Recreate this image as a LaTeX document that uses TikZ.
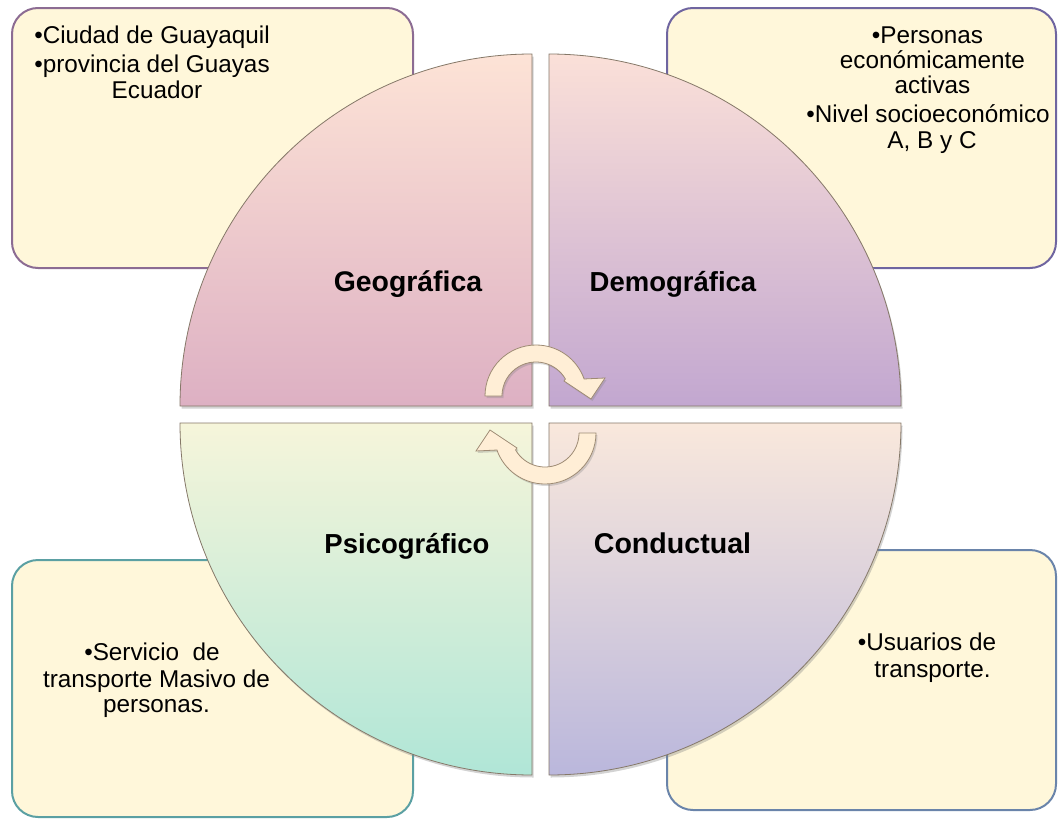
\documentclass[tikz,border=0pt]{standalone}
\usepackage{fontspec}
\setmainfont{Liberation Sans}
\usetikzlibrary{shadows}
\definecolor{boxfill}{HTML}{FFF7DA}
\definecolor{tlline}{HTML}{8C6C93}
\definecolor{trline}{HTML}{6F65A0}
\definecolor{blline}{HTML}{5BA0A3}
\definecolor{brline}{HTML}{6A84AA}
\definecolor{quadline}{HTML}{857868}
\definecolor{tltop}{HTML}{FDE3D6}
\definecolor{tlbot}{HTML}{DDB0C3}
\definecolor{trtop}{HTML}{FBE0D8}
\definecolor{trbot}{HTML}{C2A7D0}
\definecolor{bltop}{HTML}{F6F5DA}
\definecolor{blbot}{HTML}{B0E6D7}
\definecolor{brtop}{HTML}{F9E8DC}
\definecolor{brbot}{HTML}{BAB7DC}
\definecolor{arrowfill}{HTML}{FFEED6}
\definecolor{arrowline}{HTML}{9E8B74}
\begin{document}
\begin{tikzpicture}[x=1pt,y=1pt,
  infobox/.style={rectangle, rounded corners=26pt, fill=boxfill, line width=2pt, inner sep=0pt},
  quad/.style={draw=quadline, line width=0.8pt, drop shadow={shadow xshift=1.5pt,shadow yshift=-2.5pt,opacity=0.35}},
  body/.style={font=\fontsize{24.3}{26}\selectfont, inner sep=0pt, anchor=base},
  lab/.style={font=\bfseries\fontsize{27.5}{30}\selectfont, inner sep=0pt, anchor=base},
  cyclearrow/.style={fill=arrowfill, draw=arrowline, line width=0.8pt, drop shadow={shadow xshift=1.5pt,shadow yshift=-2pt,opacity=0.3}}]
\useasboundingbox (0,0) rectangle (1058,-819);
% info boxes
\node[infobox, draw=tlline, minimum width=401pt, minimum height=260pt] (boxTL) at (212.5,-138) {};
\node[infobox, draw=trline, minimum width=389pt, minimum height=260pt] (boxTR) at (861.5,-138) {};
\node[infobox, draw=blline, minimum width=401pt, minimum height=257pt] (boxBL) at (212.5,-688.5) {};
\node[infobox, draw=brline, minimum width=389pt, minimum height=260pt] (boxBR) at (861.5,-680) {};
% quadrants
\path[quad, top color=tltop, bottom color=tlbot] (532,-406) -- (180,-406) arc[start angle=180, end angle=90, radius=352] -- cycle;
\path[quad, top color=trtop, bottom color=trbot] (549,-406) -- (549,-54) arc[start angle=90, end angle=0, radius=352] -- cycle;
\path[quad, top color=bltop, bottom color=blbot] (532,-423) -- (532,-775) arc[start angle=270, end angle=180, radius=352] -- cycle;
\path[quad, top color=brtop, bottom color=brbot] (549,-423) -- (901,-423) arc[start angle=0, end angle=-90, radius=352] -- cycle;
% circular arrows
\path[cyclearrow] (502,-396) -- (485,-396) arc[start angle=180, end angle=19.5, radius=51] -- (605,-378) -- (591,-399) -- (564,-381) -- (565.4,-379) arc[start angle=30, end angle=180, radius=34] -- cycle;
\path[cyclearrow, rotate around={180:(540.5,-414.5)}] (502,-396) -- (485,-396) arc[start angle=180, end angle=19.5, radius=51] -- (605,-378) -- (591,-399) -- (564,-381) -- (565.4,-379) arc[start angle=30, end angle=180, radius=34] -- cycle;
% quadrant labels
\node[lab, font=\bfseries\fontsize{28.4}{30}\selectfont] (geo) at (408,-291) {Geográfica};
\node[lab] (demo) at (673,-291) {Demográfica};
\node[lab] (psico) at (407,-553) {Psicográfico};
\node[lab, font=\bfseries\fontsize{28.6}{30}\selectfont] (cond) at (672.5,-553) {Conductual};
% box texts
\node[body] (tl1) at (152,-43) {•Ciudad de Guayaquil};
\node[body] (tl2) at (152,-72) {•provincia del Guayas};
\node[body] (tl3) at (157,-98) {Ecuador};
\node[body] (tr1) at (927.5,-43) {•Personas};
\node[body] (tr2) at (932.5,-68) {económicamente};
\node[body] (tr3) at (932.5,-93) {activas};
\node[body] (tr4) at (928,-122) {•Nivel socioeconómico};
\node[body] (tr5) at (932,-148) {A, B y C};
\node[body] (bl1) at (152,-660) {•Servicio\ \ de};
\node[body] (bl2) at (156.5,-687) {transporte Masivo de};
\node[body] (bl3) at (156.5,-712) {personas.};
\node[body] (br1) at (927,-650) {•Usuarios de};
\node[body] (br2) at (932.5,-677) {transporte.};
\end{tikzpicture}
\end{document}
